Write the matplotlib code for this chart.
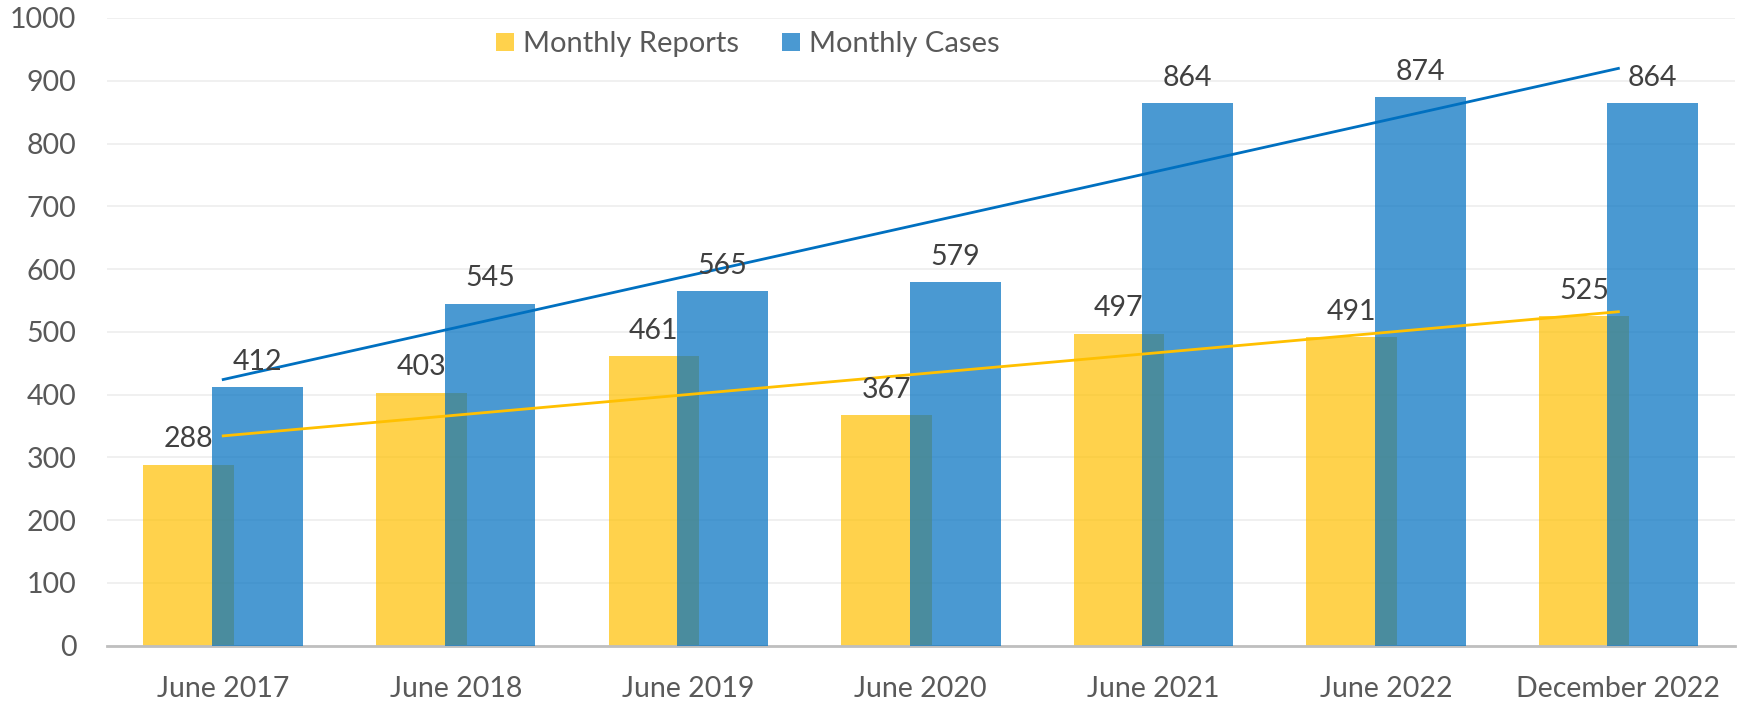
import matplotlib.pyplot as plt
import numpy as np

periodos = ["June 2017", "June 2018", "June 2019", "June 2020",
            "June 2021", "June 2022", "December 2022"]
relatorios_mensais = [288, 403, 461, 367, 497, 491, 525]
casos_mensais = [412, 545, 565, 579, 864, 874, 864]

plt.rcParams["font.family"] = ["Lato", "DejaVu Sans"]

fig = plt.figure(figsize=(17.39, 7.02), dpi=100)
ax = fig.add_axes([0.0615, 0.0802, 0.936, 0.8942])

x = np.arange(len(periodos))
largura = 0.39
desloc = 0.148

barras_rel = ax.bar(x - desloc, relatorios_mensais, largura, color="#FFC000",
                    alpha=0.7, label="Monthly Reports", zorder=2)
barras_cas = ax.bar(x + desloc, casos_mensais, largura, color="#0070C0",
                    alpha=0.71, label="Monthly Cases", zorder=3)

# linhas de tendencia (ajuste linear)
for serie, cor in [(relatorios_mensais, "#FFC000"), (casos_mensais, "#0070C0")]:
    coef = np.polyfit(x, serie, 1)
    ax.plot(x, np.polyval(coef, x), color=cor, linewidth=2.0, zorder=4)

# rotulos dos valores
for barras in (barras_rel, barras_cas):
    for b in barras:
        ax.annotate(f"{b.get_height():.0f}",
                    (b.get_x() + b.get_width() / 2, b.get_height()),
                    xytext=(0, 9), textcoords="offset points",
                    ha="center", va="bottom", fontsize=20.5, color="#404040",
                    zorder=5)

ax.set_xlim(-0.5, len(periodos) - 0.5)
ax.set_ylim(0, 1000)
ax.set_yticks(range(0, 1001, 100))
ax.set_xticks(x)
ax.set_xticklabels(periodos)
ax.tick_params(axis="both", length=0, labelsize=20.5, labelcolor="#595959")
ax.tick_params(axis="y", pad=22)
ax.tick_params(axis="x", pad=22)

ax.grid(axis="y", color="#EDEDED", linewidth=1.2, zorder=0)
ax.set_axisbelow(True)
for lado in ["top", "right", "left"]:
    ax.spines[lado].set_visible(False)
ax.spines["bottom"].set_color("#BFBFBF")
ax.spines["bottom"].set_linewidth(2)

fig.legend(handles=[barras_rel, barras_cas], loc="center",
           bbox_to_anchor=(0.4298, 0.937), ncol=2, frameon=False,
           fontsize=21, labelcolor="#595959", handlelength=0.62,
           handleheight=0.62, handletextpad=0.31, columnspacing=1.47)

fig.savefig("out.png", dpi=100)
